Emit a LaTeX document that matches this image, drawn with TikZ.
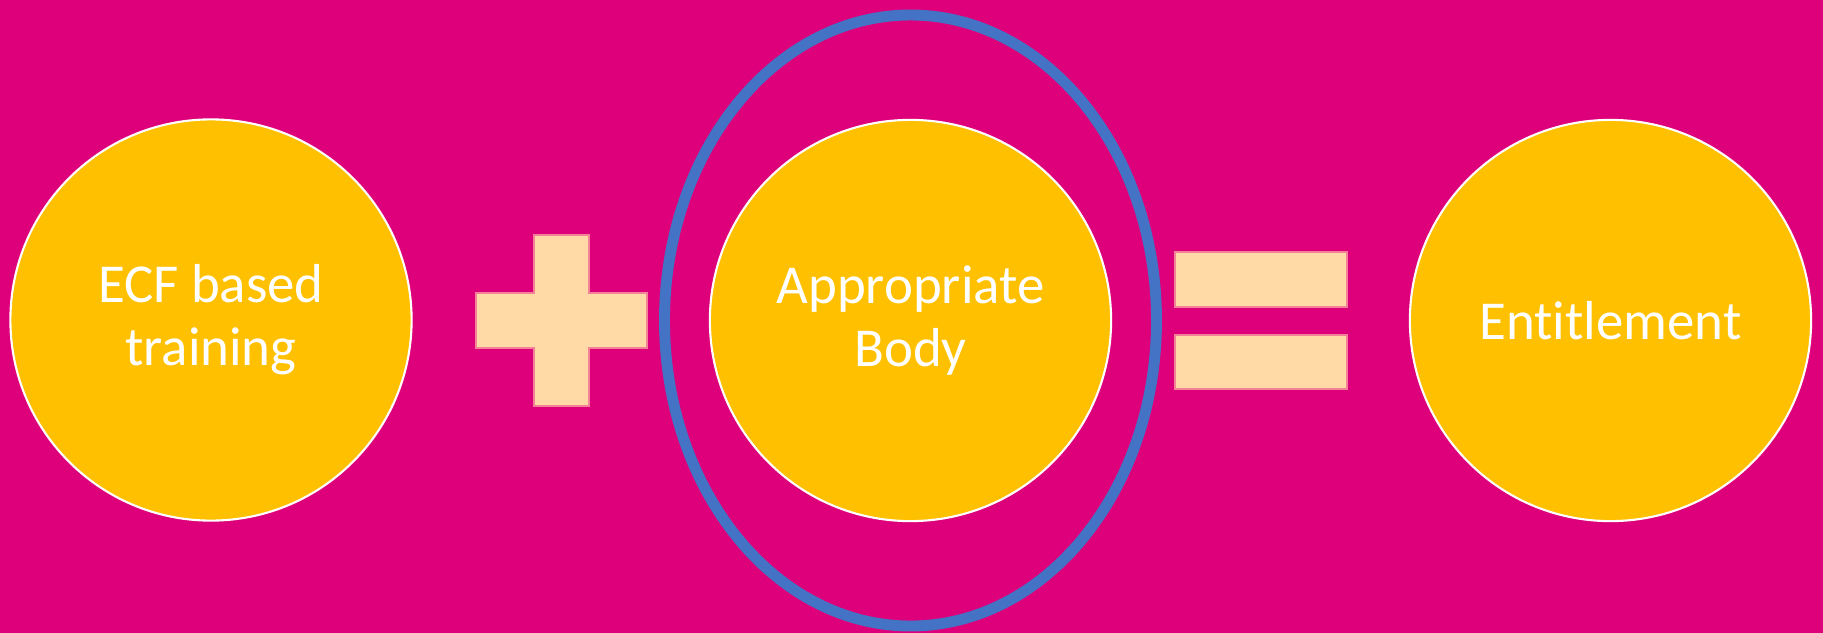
\documentclass[tikz,border=0pt]{standalone}
\usepackage{fontspec}
\setmainfont{Carlito}[Ligatures={NoCommon}]
\usepackage{tikz}
\usepackage{xcolor}
\definecolor{bgpink}{RGB}{222,0,122}
\definecolor{gold}{RGB}{255,192,0}
\definecolor{ringblue}{RGB}{68,114,196}
\definecolor{peach}{RGB}{255,218,166}
\definecolor{peachedge}{RGB}{244,130,150}

\begin{document}
\begin{tikzpicture}[x=0.01cm, y=-0.01cm,
    bubble/.style={circle, draw=white, line width=0.6pt, fill=gold,
        minimum size=4.01cm, inner sep=0pt, outer sep=0pt,
        text=white, align=center,
        font=\fontsize{15.6pt}{17.9pt}\selectfont},
    sign/.style={fill=peach, draw=peachedge, line width=0.3pt}]
    % Background
    \fill[bgpink] (0,0) rectangle (1823,633);
    \useasboundingbox (0,0) rectangle (1823,633);

    % Circles
    \node[bubble] (ecf) at (211,320) {ECF based\\training};
    \node[bubble] (ab) at (910.5,320.5) {Appropriate\\Body};
    \node[bubble] (ent) at (1610.5,320.5) {Entitlement};

    % Ring round the appropriate body
    \draw[ringblue, line width=3.1pt] (ab.center) ellipse [x radius=246, y radius=305.5];

    % Plus sign
    \draw[sign] (476,293) -- (534,293) -- (534,235) -- (589,235) -- (589,293)
        -- (647,293) -- (647,348) -- (589,348) -- (589,406) -- (534,406)
        -- (534,348) -- (476,348) -- cycle;

    % Equals sign
    \draw[sign] (1175,252) rectangle (1347,307);
    \draw[sign] (1175,335) rectangle (1347,389);
\end{tikzpicture}
\end{document}
